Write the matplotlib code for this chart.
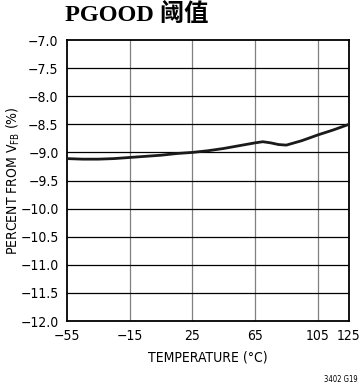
import matplotlib
matplotlib.use("Agg")
import matplotlib.pyplot as plt

temp = [-55, -45, -35, -25, -15, -5, 5, 15, 25, 35, 45, 55, 65, 70, 75, 80, 85, 95, 105, 115, 125]
pct = [-9.11, -9.12, -9.12, -9.11, -9.09, -9.07, -9.05, -9.02, -9.00, -8.97, -8.93, -8.88,
       -8.83, -8.81, -8.83, -8.86, -8.87, -8.79, -8.69, -8.60, -8.50]

xticks = [-55, -15, 25, 65, 105, 125]
yticks = [-7.0 - 0.5 * i for i in range(11)]

plt.rcParams['font.family'] = ['DejaVu Sans']
plt.rcParams['font.stretch'] = 'condensed'

fig = plt.figure(figsize=(3.61, 3.90), dpi=100)
ax = fig.add_axes([0.1856, 0.1769, 0.7812, 0.7205])

for t in xticks[1:-1]:
    ax.axvline(t, color='#808080', lw=0.9, zorder=1)
for v in yticks[1:-1]:
    ax.axhline(v, color='black', lw=0.9, zorder=1)

ax.plot(temp, pct, color='#1a1a1a', lw=2.0, zorder=3)

ax.set_xlim(-55, 125)
ax.set_ylim(-12.0, -7.0)
ax.set_xticks(xticks)
ax.set_xticklabels(['\u221255', '\u221215', '25', '65', '105', '125'])
ax.set_yticks(yticks)
ax.set_yticklabels(['\u2212%.1f' % abs(v) for v in yticks])
ax.tick_params(length=0, labelsize=10, pad=6)
for s in ax.spines.values():
    s.set_linewidth(1.3)

ax.set_xlabel('TEMPERATURE (\u00b0C)', fontsize=10, labelpad=5)
ax.set_ylabel('PERCENT FROM V$_{\\mathregular{FB}}$ (%)', fontsize=10, va='center')
ax.yaxis.set_label_coords(-0.19, 0.5)

fig.text(0.38, 0.962, 'PGOOD 阈值', ha='center', va='center', fontsize=17.5,
         fontweight='bold', family=['Liberation Serif', 'Noto Sans CJK SC'])
fig.text(0.945, 0.028, '3402 G19', ha='center', va='center', fontsize=5.5)

fig.savefig('out.png', dpi=100)
